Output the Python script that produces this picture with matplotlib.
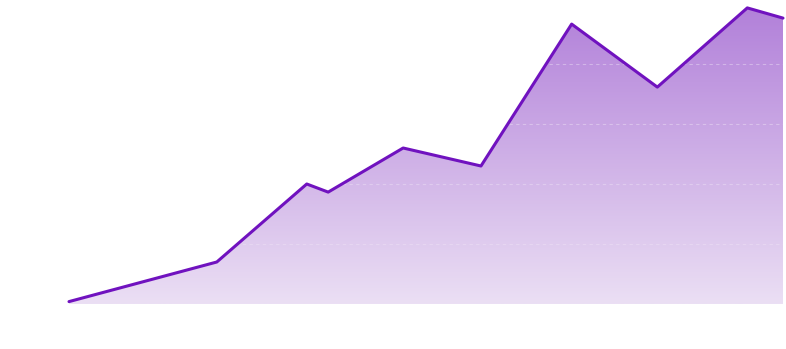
import numpy as np
import matplotlib.pyplot as plt
from matplotlib.colors import LinearSegmentedColormap

# series (x in arbitrary time units, y in 0-100 scale)
days = [0, 20.7, 33.3, 36.3, 46.8, 57.7, 70.4, 82.4, 95, 100]
values = [0.8, 14, 40, 37.3, 52, 46, 93.3, 72.3, 98.7, 95.3]

line_color = '#7012bf'
grad = LinearSegmentedColormap.from_list('grad', ['#ebdff4', '#b17fd9'])

fig = plt.figure(figsize=(7.86, 3.49), dpi=100)
ax = fig.add_axes([69 / 786, 45 / 349, 714 / 786, 300 / 349])
ax.set_xlim(0, 100)
ax.set_ylim(0, 100)

fill = ax.fill_between(days, values, 0, color='none', lw=0)
area = fill.get_paths()[0]
img = ax.imshow(np.linspace(0, 1, 256).reshape(-1, 1), cmap=grad, origin='lower',
                extent=[0, 100, 0, 100], aspect='auto', zorder=1)
img.set_clip_path(area, transform=ax.transData)

# grid only shows through the filled area
for yv in [20, 40, 60, 80]:
    gl = ax.axhline(yv, color='#efe4f6', lw=0.8, ls=(0, (3, 3)), alpha=0.45, zorder=2)
    gl.set_clip_path(area, transform=ax.transData)

ax.plot(days, values, color=line_color, lw=2.2, solid_joinstyle='round',
        solid_capstyle='round', zorder=3, clip_on=False)

for s in ax.spines.values():
    s.set_visible(False)
ax.set_xticks([])
ax.set_yticks([])

fig.savefig('out.png', dpi=100)
